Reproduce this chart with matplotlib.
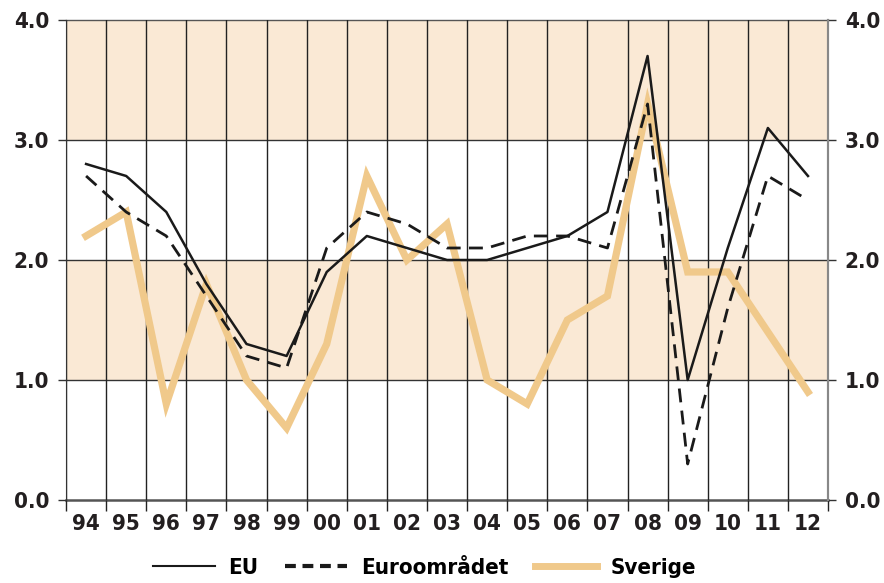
import numpy as np
import matplotlib.pyplot as plt
from matplotlib.lines import Line2D

# Data (percent)
years = ['94', '95', '96', '97', '98', '99', '00', '01', '02', '03',
         '04', '05', '06', '07', '08', '09', '10', '11', '12']
eu = [2.8, 2.7, 2.4, 1.8, 1.3, 1.2, 1.9, 2.2, 2.1, 2.0,
      2.0, 2.1, 2.2, 2.4, 3.7, 1.0, 2.1, 3.1, 2.7]
euro = [2.7, 2.4, 2.2, 1.7, 1.2, 1.1, 2.1, 2.4, 2.3, 2.1,
        2.1, 2.2, 2.2, 2.1, 3.3, 0.3, 1.6, 2.7, 2.5]
sverige = [2.2, 2.4, 0.8, 1.8, 1.0, 0.6, 1.3, 2.7, 2.0, 2.3,
           1.0, 0.8, 1.5, 1.7, 3.3, 1.9, 1.9, 1.4, 0.9]
yticks = [0, 1, 2, 3, 4]
bands = [(1, 2), (3, 4)]

band_color = '#FAE9D5'
sve_color = '#F0C98B'
txt_color = '#231f20'

plt.rcParams['font.family'] = ['DejaVu Sans']
plt.rcParams['font.stretch'] = 'condensed'
tick_font = dict(fontsize=16, fontweight='bold', color=txt_color, fontstretch='condensed')

fig = plt.figure(figsize=(8.84, 5.83), dpi=100)
ax = fig.add_axes([0.0747, 0.1424, 0.862, 0.8233])

x = np.arange(len(years))

for lo, hi in bands:
    ax.axhspan(lo, hi, color=band_color, zorder=0, lw=0)

# grid
for y in yticks:
    lw = 1.8 if y == 0 else 1.0
    col = '#555555' if y in (0, 4) else '#333333'
    ax.axhline(y, color=col, lw=lw, zorder=1, clip_on=False)
for b in np.arange(len(years) + 1) - 0.5:
    ax.axvline(b, color='#222222', lw=1.0, zorder=1)

ax.plot(x, sverige, color=sve_color, lw=5.2, zorder=2, solid_joinstyle='miter')
ax.plot(x, euro, color='#1a1a1a', lw=2.0, ls=(0, (5, 3)), zorder=3)
ax.plot(x, eu, color='#1a1a1a', lw=1.8, zorder=4)

ax.set_xlim(-0.5, len(years) - 0.5)
ax.set_ylim(0, 4)

# tick marks at boundaries, labels at centers
ax.set_xticks(np.arange(len(years) + 1) - 0.5)
ax.set_xticklabels([])
ax.tick_params(axis='x', which='major', length=8, width=1.0, color='#222222', direction='out')
ax.set_xticks(x, minor=True)
ax.set_xticklabels(years, minor=True, **tick_font)
ax.tick_params(axis='x', which='minor', length=0, pad=10)

ax.set_yticks(yticks)
ax.set_yticklabels([f'{v:.1f}' for v in yticks], **tick_font)
ax.tick_params(axis='y', length=6, width=1.0, color='#333333', pad=6)

for s in ['top', 'bottom']:
    ax.spines[s].set_visible(False)
ax.spines['left'].set_color('#333333')
ax.spines['right'].set_color('#888888')
ax.spines['right'].set_linewidth(1.5)

ax2 = ax.twinx()
ax2.set_ylim(0, 4)
ax2.set_yticks(yticks)
ax2.set_yticklabels([f'{v:.1f}' for v in yticks], **tick_font)
ax2.tick_params(axis='y', length=6, width=1.0, color='#333333', pad=6)
for s in ['top', 'bottom', 'left']:
    ax2.spines[s].set_visible(False)
ax2.spines['right'].set_color('#888888')
ax2.spines['right'].set_linewidth(1.5)

handles = [
    Line2D([], [], color='#1a1a1a', lw=1.5),
    Line2D([], [], color='#1a1a1a', lw=3.0, ls=(0, (2.6, 1.6))),
    Line2D([], [], color=sve_color, lw=5),
]
fig.legend(handles, ['EU', 'Euroområdet', 'Sverige'], loc='lower center',
           bbox_to_anchor=(0.48, -0.025), ncol=3, frameon=False,
           prop={'family': 'DejaVu Sans', 'size': 16, 'weight': 'bold', 'stretch': 'condensed'},
           handlelength=2.8, columnspacing=1.2, handletextpad=0.6)

fig.savefig('out.png', dpi=100)
